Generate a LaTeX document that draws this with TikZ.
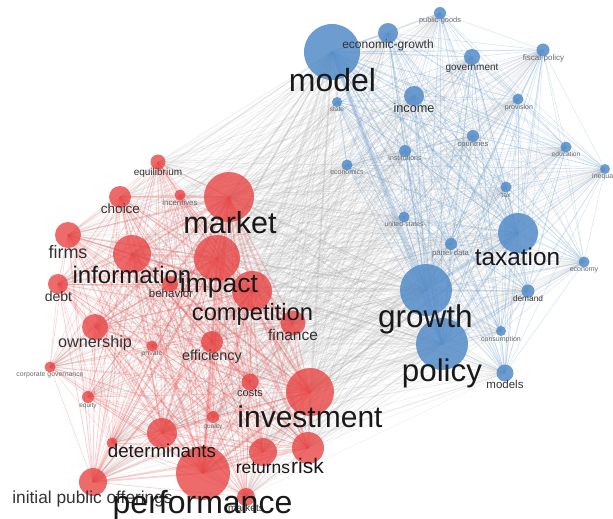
\documentclass[tikz,border=0pt]{standalone}
\usepackage{fontspec}
\setmainfont{Liberation Sans}
\usetikzlibrary{backgrounds}
\definecolor{vred}{RGB}{232,66,66}
\definecolor{vblue}{RGB}{84,140,200}
\definecolor{redgec}{RGB}{236,90,90}
\definecolor{bedgec}{RGB}{110,160,210}
\definecolor{gedgec}{RGB}{160,160,160}
\tikzset{
 rn/.style={circle, fill=vred, fill opacity=0.78, inner sep=0pt, minimum size=#1},
 bn/.style={circle, fill=vblue, fill opacity=0.85, inner sep=0pt, minimum size=#1},
 lab/.style={anchor=base, inner sep=0pt, font=\fontsize{#1}{#1}\selectfont},
 big/.style={text=black!90},
 mid/.style={text=black!80},
 sml/.style={text=black!58},
 redge/.style={draw=redgec, draw opacity=0.27},
 bedge/.style={draw=bedgec, draw opacity=0.3},
 gedge/.style={draw=gedgec, draw opacity=0.19},
}
\def\RedE{equilibrium/7.5,incentives/5.5,choice/11,market/25,firms/13,information/19,impact/23,debt/10,behavior/8,competition/20,finance/12.5,ownership/13,private/5.5,efficiency/11,corpgov/5.5,costs/8.5,investment/24,equity/6,quality/6,determinants/15,smallr/5.5,risk/16,returns/14,performance/27,ipo/14,markets/9}
\def\BlueE{model/28,economic-growth/10,public-goods/6,government/8,fiscal-policy/6.5,state/5,income/10,provision/5.5,countries/6,institutions/6,economics/5.5,education/5.5,inequality/5,tax/5.5,united-states/5.5,taxation/20,panel-data/6,economy/5.5,growth/26,demand/6.5,consumption/5,policy/26,models/8.5}
\begin{document}
\begin{tikzpicture}[x=1pt,y=-1pt]
\useasboundingbox (0,0) rectangle (613,519);
% red cluster circles
\node[rn=15] (equilibrium) at (158,162) {};
\node[rn=11] (incentives) at (180,195) {};
\node[rn=22] (choice) at (120,197) {};
\node[rn=50] (market) at (229,197) {};
\node[rn=26] (firms) at (68,235) {};
\node[rn=38] (information) at (132,254) {};
\node[rn=46] (impact) at (217,258) {};
\node[rn=20] (debt) at (58,284) {};
\node[rn=16] (behavior) at (170,284) {};
\node[rn=40] (competition) at (252,291) {};
\node[rn=25] (finance) at (293,323) {};
\node[rn=26] (ownership) at (95,327) {};
\node[rn=11] (private) at (152,346) {};
\node[rn=22] (efficiency) at (212,342) {};
\node[rn=11] (corpgov) at (50,367) {};
\node[rn=17] (costs) at (250,382) {};
\node[rn=48] (investment) at (310,392) {};
\node[rn=12] (equity) at (88,397) {};
\node[rn=12] (quality) at (213,417) {};
\node[rn=30] (determinants) at (162,433) {};
\node[rn=11] (smallr) at (112,443) {};
\node[rn=32] (risk) at (308,448) {};
\node[rn=28] (returns) at (263,452) {};
\node[rn=54] (performance) at (203,473) {};
\node[rn=28] (ipo) at (93,482) {};
\node[rn=18] (markets) at (246,497) {};
% blue cluster circles
\node[bn=56] (model) at (332,52) {};
\node[bn=20] (economic-growth) at (388,33) {};
\node[bn=12] (public-goods) at (440,13) {};
\node[bn=16] (government) at (472,57) {};
\node[bn=13] (fiscal-policy) at (543,50) {};
\node[bn=10] (state) at (337,102) {};
\node[bn=20] (income) at (414,96) {};
\node[bn=11] (provision) at (518,99) {};
\node[bn=12] (countries) at (473,136) {};
\node[bn=12] (institutions) at (405,151) {};
\node[bn=11] (economics) at (347,165) {};
\node[bn=11] (education) at (566,147) {};
\node[bn=10] (inequality) at (605,169) {};
\node[bn=11] (tax) at (506,187) {};
\node[bn=11] (united-states) at (404,217) {};
\node[bn=40] (taxation) at (518,233) {};
\node[bn=12] (panel-data) at (451,244) {};
\node[bn=11] (economy) at (584,262) {};
\node[bn=52] (growth) at (426,290) {};
\node[bn=13] (demand) at (528,291) {};
\node[bn=10] (consumption) at (501,331) {};
\node[bn=52] (policy) at (442,344) {};
\node[bn=17] (models) at (505,373) {};
% edges
\begin{pgfonlayer}{background}
\fill[white] (0,0) rectangle (613,519);
\foreach \a/\ra in \RedE {
  \foreach \b/\rb in \BlueE {
    \pgfmathsetmacro\w{0.25+\ra*\rb/500}
    \draw[gedge, line width=\w pt] (\a.center) -- (\b.center);
  }
}
\foreach \a/\ra [count=\i] in \BlueE {
  \foreach \b/\rb [count=\j] in \BlueE {
    \ifnum\j>\i\relax
      \pgfmathsetmacro\w{0.3+\ra*\rb/280}
      \draw[bedge, line width=\w pt] (\a.center) -- (\b.center);
    \fi
  }
}
\foreach \a/\ra [count=\i] in \RedE {
  \foreach \b/\rb [count=\j] in \RedE {
    \ifnum\j>\i\relax
      \pgfmathsetmacro\w{0.3+\ra*\rb/280}
      \draw[redge, line width=\w pt] (\a.center) -- (\b.center);
    \fi
  }
}
\end{pgfonlayer}
% small labels
\node[lab=7.4, sml] (public-goods-l) at (440,23) {public-goods};
\node[lab=8, sml] (fiscal-policy-l) at (543.5,60) {fiscal-policy};
\node[lab=6.5, sml] (state-l) at (337,111) {state};
\node[lab=7, sml] (provision-l) at (519,109) {provision};
\node[lab=7.6, sml] (countries-l) at (473,146) {countries};
\node[lab=7, sml] (institutions-l) at (405,160) {institutions};
\node[lab=7, sml] (economics-l) at (347,174) {economics};
\node[lab=6.6, sml] (education-l) at (566,156) {education};
\node[lab=7, sml] (inequality-l) at (607,178) {inequality};
\node[lab=7, sml] (tax-l) at (506,197) {tax};
\node[lab=6.8, sml] (united-states-l) at (404,226) {united-states};
\node[lab=7.8, sml] (panel-data-l) at (450.5,255) {panel-data};
\node[lab=7, sml] (economy-l) at (584,271) {economy};
\node[lab=8.3, mid] (demand-l) at (528,301) {demand};
\node[lab=7, sml] (consumption-l) at (501,341) {consumption};
\node[lab=7.9, sml] (incentives-l) at (180,205) {incentives};
\node[lab=7, sml] (private-l) at (152,355) {private};
\node[lab=6.9, sml] (corpgov-l) at (50,376) {corporate governance};
\node[lab=6.5, sml] (equity-l) at (88,407) {equity};
\node[lab=6.5, sml] (quality-l) at (213,428) {quality};
% medium labels
\node[lab=10, mid] (government-l) at (472,70.5) {government};
\node[lab=12, mid] (economic-growth-l) at (388,48.5) {economic-growth};
\node[lab=12.7, mid] (income-l) at (414,112) {income};
\node[lab=11.5, mid] (models-l) at (505,388) {models};
\node[lab=10, mid] (equilibrium-l) at (158,175.5) {equilibrium};
\node[lab=13.5, mid] (choice-l) at (120.5,213.5) {choice};
\node[lab=11.5, mid] (behavior-l) at (171,297) {behavior};
\node[lab=14, mid] (debt-l) at (58.5,301.7) {debt};
\node[lab=11, mid] (costs-l) at (250,396) {costs};
\node[lab=10, mid] (markets-l) at (246,511) {markets};
\node[lab=15.5, mid] (finance-l) at (293,340) {finance};
\node[lab=14.4, mid] (efficiency-l) at (212,360) {efficiency};
\node[lab=16.2, mid] (ownership-l) at (95,347) {ownership};
\node[lab=18, mid] (firms-l) at (68,258) {firms};
\node[lab=17.3, mid] (ipo-l) at (92.5,503.5) {initial public offerings};
\node[lab=18.7, big] (determinants-l) at (162,457) {determinants};
\node[lab=17.4, big] (returns-l) at (263,473) {returns};
\node[lab=21, big] (risk-l) at (307.5,473) {risk};
% big labels
\node[lab=24, big] (information-l) at (132,283.5) {information};
\node[lab=23.7, big] (competition-l) at (252.5,320) {competition};
\node[lab=26.5, big] (impact-l) at (219,292) {impact};
\node[lab=24.3, big] (taxation-l) at (517.5,265) {taxation};
\node[lab=30, big] (investment-l) at (310,427.5) {investment};
\node[lab=30.5, big] (market-l) at (230,233.5) {market};
\node[lab=31.5, big] (growth-l) at (425.5,327) {growth};
\node[lab=31.3, big] (policy-l) at (442,381) {policy};
\node[lab=32, big] (model-l) at (332.5,92) {model};
\node[lab=32, big] (performance-l) at (202.5,513) {performance};
\end{tikzpicture}
\end{document}
